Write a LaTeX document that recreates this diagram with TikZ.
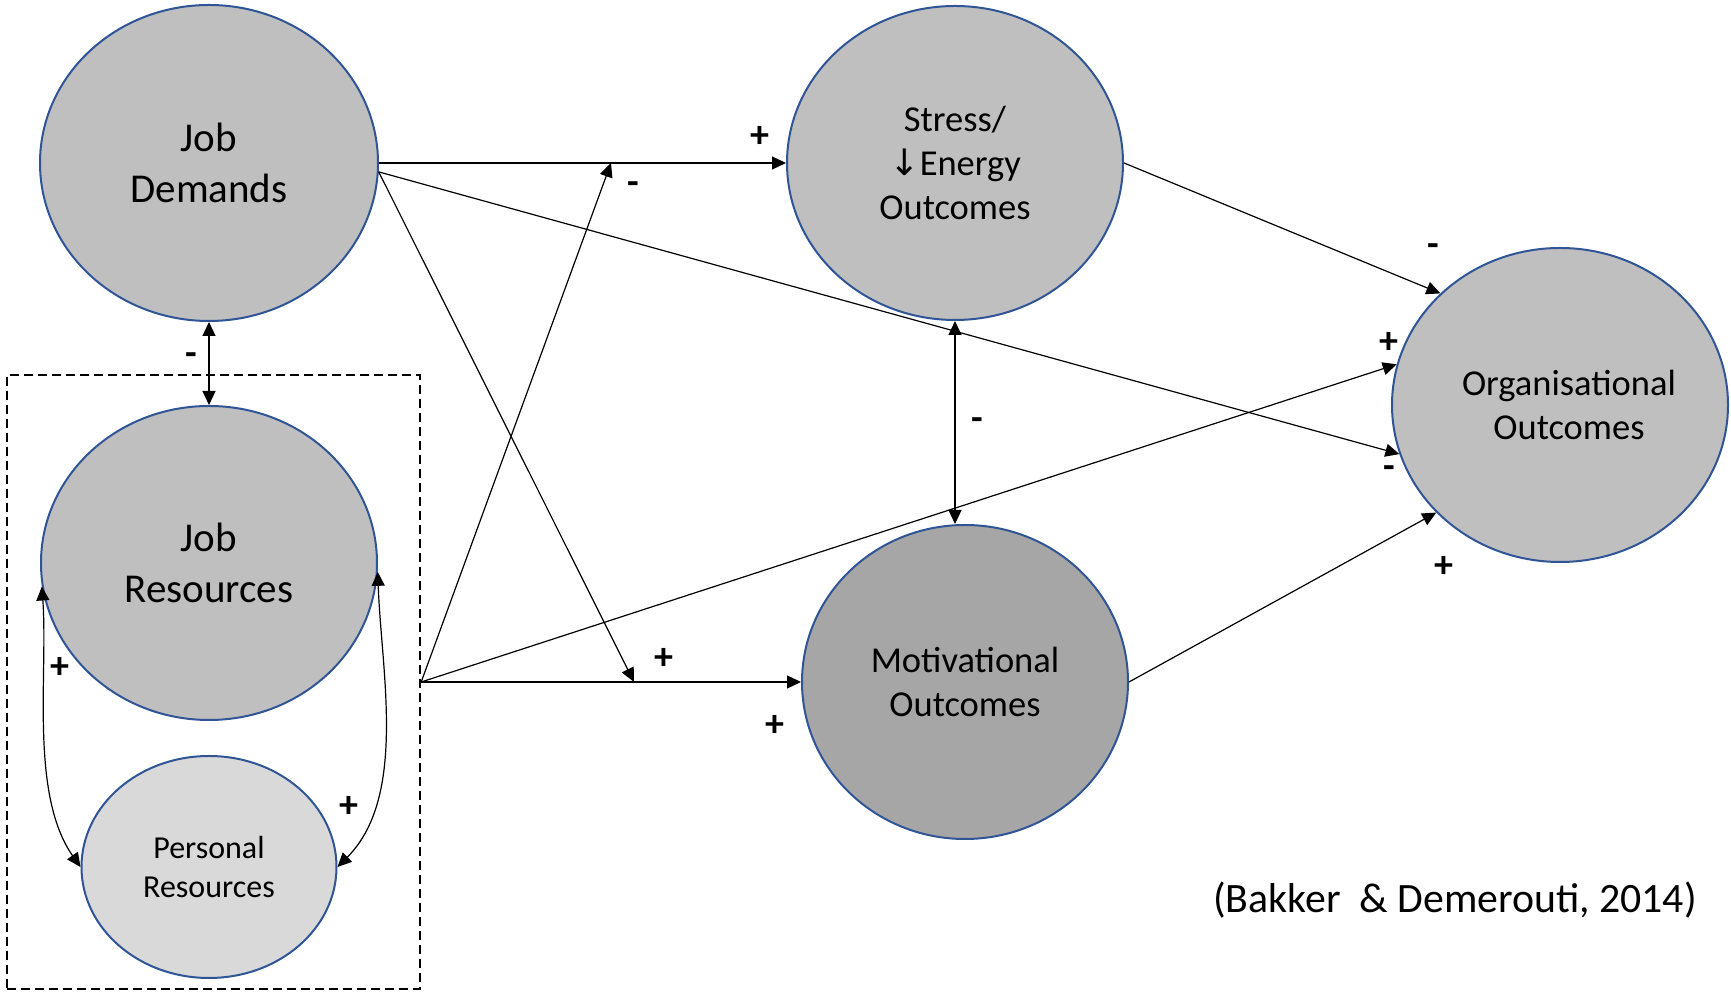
\documentclass[tikz,border=0pt]{standalone}
\usepackage{fontspec}
\setmainfont{Carlito}
\newfontfamily\symfont{DejaVu Sans}
\usetikzlibrary{arrows.meta,shapes.geometric}
\definecolor{ebord}{RGB}{47,85,151}
\definecolor{gmid}{RGB}{191,191,191}
\definecolor{gdark}{RGB}{166,166,166}
\definecolor{glight}{RGB}{217,217,217}
\begin{document}
\begin{tikzpicture}[x=1pt,y=1pt,
  blob/.style={ellipse, draw=ebord, line width=2pt, inner sep=0pt, align=center,
    font=\fontsize{36.5}{44}\selectfont},
  big/.style={font=\fontsize{41}{51}\selectfont},
  conn/.style={line width=1.2pt, -{Triangle[length=14pt,width=13pt]}},
  both/.style={line width=1.2pt, {Triangle[length=14pt,width=13pt]}-{Triangle[length=14pt,width=13pt]}},
  sign/.style={font=\fontsize{38}{42}\selectfont\bfseries, inner sep=0pt}]
\useasboundingbox (0,0) rectangle (1731,992);
% nodes
\node[blob, big, fill=gmid, minimum width=338pt, minimum height=316pt] (jd) at (209,829) {Job\\Demands};
\node[blob, big, fill=gmid, minimum width=336pt, minimum height=314pt] (jr) at (209,429) {Job\\Resources};
\node[blob, fill=glight, minimum width=255pt, minimum height=222pt, font=\fontsize{32}{39}\selectfont] (pr) at (209,125) {Personal\\Resources};
\node[blob, fill=gmid, minimum width=336pt, minimum height=314pt] (st) at (955,829) {Stress/\\{\symfont ↓}Energy\\Outcomes};
\node[blob, fill=gdark, minimum width=326pt, minimum height=314pt] (mo) at (965,310) {Motivational\\Outcomes};
\node[blob, fill=gmid, minimum width=336pt, minimum height=314pt] (or) at (1560,587) {\hspace*{18pt}Organisational\\\hspace*{18pt}Outcomes};
\node[draw, dash pattern=on 9pt off 5pt, line width=2.4pt, inner sep=0pt, minimum width=413pt, minimum height=614pt] (box) at (213.5,310) {};
\coordinate (m1) at (611,829);
\coordinate (m2) at (634,310);
% connectors
\draw[conn] (jd.east) -- (st.west);
\draw[conn] (jd.-3) -- (or.197);
\draw[conn] (jd.-3) -- (m2);
\draw[conn] (box.east) -- (mo.west);
\draw[conn] (box.east) -- (m1);
\draw[conn] (box.east) -- (or.166);
\draw[both] (jd.south) -- (jr.north);
\draw[both] (st.south) -- (st.south |- mo.north);
\draw[conn] (st.east) -- (or.137);
\draw[conn] (mo.east) -- (or.221);
\draw[both] (jr.188) to[out=-86,in=125,looseness=0.8] (pr.west);
\draw[both] (jr.-3) to[out=-88,in=45,looseness=0.85] (pr.east);
% signs
\node[sign] (s1) at (760,855) {+};
\node[sign] (s2) at (633,804) {-};
\node[sign] (s3) at (191,633) {-};
\node[sign] (s4) at (60,324) {+};
\node[sign] (s5) at (349,185) {+};
\node[sign] (s6) at (664,333) {+};
\node[sign] (s7) at (775,266) {+};
\node[sign] (s8) at (977,568) {-};
\node[sign] (s9) at (1433,742) {-};
\node[sign] (s10) at (1389,649) {+};
\node[sign] (s11) at (1389,520) {-};
\node[sign] (s12) at (1444,425) {+};
\node[font=\fontsize{41.8}{50}\selectfont, inner sep=0pt] (cite) at (1455,92) {(Bakker\ \ \& Demerouti, 2014)};
\end{tikzpicture}
\end{document}
